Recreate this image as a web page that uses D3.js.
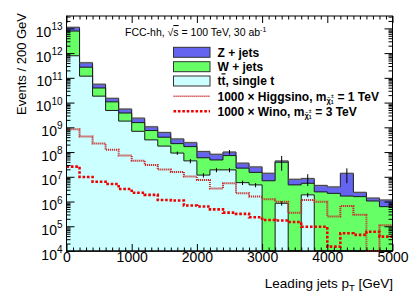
<!DOCTYPE html>
<html><head><meta charset="utf-8">
<script src="https://cdn.jsdelivr.net/npm/d3@7"></script>
<style>
body{margin:0;background:#fff}
svg{display:block}
text{font-family:"Liberation Sans",Arial,Helvetica,sans-serif}
</style>
</head><body>
<svg id="c" width="415" height="300"></svg>
<script>
// ---- data (GeV bins of 200) ----
const binLow = [0,200,400,600,800,1000,1200,1400,1600,1800,2000,2200,2400,2600,2800,3000,3200,3400,3600,3800,4000,4200,4400,4600,4800];
const binWidth = 200;
const ttbar = [7.8e11,1.17e11,1.82e10,4.8e9,1.78e9,6.9e8,3.1e8,1.74e8,9.1e7,4.4e7,1.17e7,1.9e7,1.9e7,5.8e6,4.7e6,0,8.5e5,0,1.86e6,0,0,0,0,0,0];
const wjets = [7.0e12,1.52e11,2.07e10,5.9e9,2.0e9,8.6e8,4.3e8,2.24e8,1.28e8,1.22e8,4.7e7,2.9e7,5.3e7,1.66e7,1.04e7,6.9e6,3.8e7,4.7e6,3.6e6,2.45e6,2.14e6,1.66e6,1.58e6,1.05e6,6.2e5];
const zjets = [3.2e12,1.38e11,1.61e10,4.1e9,1.7e9,7.9e8,3.1e8,2.19e8,1.2e8,7.4e7,4.6e7,3.3e7,2.8e7,1.31e7,1.0e7,6.9e6,4.7e6,3.2e6,3.0e6,2.0e6,1.76e6,1.21e7,7.6e5,3.3e5,5.3e5];
const higgsino = [8.3e8,4.3e8,2.2e8,1.23e8,7.3e7,4.5e7,3.0e7,1.95e7,1.58e7,1.03e7,7.4e6,3.4e6,5.5e6,2.15e6,1.58e6,1.23e6,9.8e5,3.5e5,1.15e6,9.8e5,2.5e5,6.6e5,2.9e5,0,1.1e5];
const wino = [2.57e7,9.8e6,6.3e6,5.1e6,3.2e6,2.25e6,1.86e6,1.15e6,1.1e6,6.9e5,6.3e5,4.8e5,3.55e5,3.16e5,2.3e5,1.78e5,1.7e5,1.48e5,9.5e4,9.5e4,1.5e4,5.2e4,4.5e4,6.0e4,3.8e4];
const totalRelErr = [0.02,0.03,0.03,0.03,0.03,0.03,0.03,0.04,0.05,0.08,0.06,0.08,0.2,0.08,0.08,0.1,0.6,0.1,0.5,0.1,0.1,0.6,0.1,0.1,0.1];
const bandRelErr = [0.1,0.1,0.1,0.1,0.1,0.1,0.1,0.1,0.1,0.1,0.1,0.1,0.1,0.1,0.1,0.1,0.1,0.1,0.1,0.1,0.1,0.1,0.1,0.1,0.1];
const ttRelErr = [0,0,0,0,0,0,0,0,0.15,0.2,0.2,0.2,0.2,0.2,0.2,0,0.2,0,0.2,0,0,0,0,0,0];
const xTickMajor = [0,1000,2000,3000,4000,5000];
const yTickExp = [4,5,6,7,8,9,10,11,12,13];
const legendLabels = ["Z + jets","W + jets","tt̄, single t"];

// ---- layout ----
const L = 66.5, R = 392.5, T = 16, B = 251;
const svg = d3.select("#c");
const x = d3.scaleLinear().domain([0,5000]).range([L,R]);
const y = d3.scaleLog().domain([1e4, Math.pow(10,13.5)]).range([B,T]).clamp(true);
const yv = v => v > 1e4 ? y(v) : B;

const cumTT = ttbar.slice();
const cumW = ttbar.map((v,i)=>v+wjets[i]);
const cumZ = cumW.map((v,i)=>v+zjets[i]);

function stepFill(vals){
  let p = `M${x(binLow[0])},${B}`;
  vals.forEach((v,i)=>{ p += `V${yv(v)}H${x(binLow[i]+binWidth)}`; });
  p += `V${B}Z`;
  return p;
}
function stepLine(vals){
  let p = `M${x(binLow[0])},${yv(vals[0])}`;
  vals.forEach((v,i)=>{ if(i>0) p += `V${yv(v)}`; p += `H${x(binLow[i]+binWidth)}`; });
  return p;
}

const colZ = "#6464f0", colW = "#66ff66", colT = "#ccffff";
const plot = svg.append("g");
plot.append("path").attr("d",stepFill(cumZ)).attr("fill",colZ).attr("stroke","#1a1a1a").attr("stroke-width",1);
plot.append("path").attr("d",stepFill(cumW)).attr("fill",colW).attr("stroke","#1a1a1a").attr("stroke-width",1);
plot.append("path").attr("d",stepFill(cumTT)).attr("fill",colT).attr("stroke","#1a1a1a").attr("stroke-width",1);

// uncertainty band
plot.selectAll("rect.band").data(cumZ).join("rect").attr("class","band")
  .attr("x",(d,i)=>x(binLow[i])).attr("width",(d,i)=>x(binLow[i]+binWidth)-x(binLow[i]))
  .attr("y",(d,i)=>yv(d*(1+bandRelErr[i])))
  .attr("height",(d,i)=>yv(d*(1-bandRelErr[i]))-yv(d*(1+bandRelErr[i])))
  .attr("fill","#808080").attr("opacity",0.45);

// error bars on total
cumZ.forEach((d,i)=>{
  const y1 = yv(d*(1+totalRelErr[i])), y2 = yv(d*(1-totalRelErr[i]));
  if (y2-y1 > 3) plot.append("line").attr("x1",x(binLow[i]+binWidth/2)).attr("x2",x(binLow[i]+binWidth/2))
     .attr("y1",y1).attr("y2",y2).attr("stroke","#000").attr("stroke-width",1);
});
// error ticks on ttbar component
ttbar.forEach((d,i)=>{
  if (!ttRelErr[i] || d<=1e4) return;
  plot.append("line").attr("x1",x(binLow[i]+binWidth/2)).attr("x2",x(binLow[i]+binWidth/2))
     .attr("y1",yv(d*(1+ttRelErr[i]))).attr("y2",yv(d*(1-ttRelErr[i]))).attr("stroke","#000").attr("stroke-width",1);
});

// signals
const higgsStyle = {stroke:"#c83030", w:2, dash:"1.2,0.8"};
const winoStyle = {stroke:"#f00000", w:2.6, dash:"2.6,1.8"};
plot.append("path").attr("d",stepLine(higgsino)).attr("fill","none").attr("stroke",higgsStyle.stroke)
  .attr("stroke-width",higgsStyle.w).attr("stroke-dasharray",higgsStyle.dash);
plot.append("path").attr("d",stepLine(wino)).attr("fill","none").attr("stroke",winoStyle.stroke)
  .attr("stroke-width",winoStyle.w).attr("stroke-dasharray",winoStyle.dash);

// ---- axes ----
const xMinor = d3.range(0,5001,100).filter(v=>v%1000!==0);
const yMinor = [];
yTickExp.forEach(e=>{ for(let m=2;m<=9;m++){ const v=m*Math.pow(10,e); if(v<=Math.pow(10,13.5)) yMinor.push(v);} });
const yMajor = yTickExp.map(e=>Math.pow(10,e));

function styleAxis(g){ g.select(".domain").remove(); g.selectAll("line").attr("stroke","#000"); }
svg.append("g").attr("transform",`translate(0,${B})`).call(d3.axisBottom(x).tickValues(xMinor).tickSize(-3.5).tickFormat("")).call(styleAxis);
svg.append("g").attr("transform",`translate(0,${B})`).call(d3.axisBottom(x).tickValues(xTickMajor).tickSize(-7).tickPadding(1.5).tickFormat(d3.format("d")))
  .call(styleAxis).call(g=>g.selectAll("text").attr("font-size",14).attr("fill","#000").attr("font-family","Liberation Sans, Arial, sans-serif"));
svg.append("g").attr("transform",`translate(0,${T})`).call(d3.axisTop(x).tickValues(xMinor).tickSize(-3.5).tickFormat("")).call(styleAxis);
svg.append("g").attr("transform",`translate(0,${T})`).call(d3.axisTop(x).tickValues(xTickMajor).tickSize(-7).tickFormat("")).call(styleAxis);

svg.append("g").attr("transform",`translate(${L},0)`).call(d3.axisLeft(y).tickValues(yMinor).tickSize(-4).tickFormat("")).call(styleAxis);
svg.append("g").attr("transform",`translate(${L},0)`).call(d3.axisLeft(y).tickValues(yMajor).tickSize(-8).tickFormat("")).call(styleAxis);
svg.append("g").attr("transform",`translate(${R},0)`).call(d3.axisRight(y).tickValues(yMinor).tickSize(-4).tickFormat("")).call(styleAxis);
svg.append("g").attr("transform",`translate(${R},0)`).call(d3.axisRight(y).tickValues(yMajor).tickSize(-8).tickFormat("")).call(styleAxis);

// y tick labels 10^n
const yl = svg.append("g");
yTickExp.forEach(e=>{
  const t = yl.append("text").attr("x",62.5).attr("y",y(Math.pow(10,e))+8.5).attr("text-anchor","end").attr("font-size",14).attr("fill","#000");
  t.append("tspan").text("10");
  t.append("tspan").attr("font-size",10).attr("dy",-6.5).text(String(e));
});

// frame
svg.append("rect").attr("x",L).attr("y",T).attr("width",R-L).attr("height",B-T).attr("fill","none").attr("stroke","#000").attr("stroke-width",1);

// axis titles
svg.append("text").attr("transform","translate(25.5,13) rotate(-90)").attr("text-anchor","end")
  .attr("font-size",13).attr("fill","#000").text("Events / 200 GeV");
const xt = svg.append("text").attr("x",393).attr("y",287.5).attr("text-anchor","end").attr("font-size",13.5).attr("fill","#000");
xt.append("tspan").text("Leading jets p");
xt.append("tspan").attr("font-size",9.5).attr("dy",3).text("T");
xt.append("tspan").attr("dy",-3).text(" [GeV]");

// title
const tt = svg.append("text").attr("x",125).attr("y",36).attr("font-size",10.5).attr("fill","#000");
tt.append("tspan").text("FCC-hh, √");
tt.append("tspan").attr("text-decoration","overline").text("s");
tt.append("tspan").text(" = 100 TeV, 30 ab");
tt.append("tspan").attr("font-size",7).attr("dy",-4).text("-1");

// legend
const lg = svg.append("g");
const rowY = [52.3,66.7,81,96.3,111.3];
[colZ,colW,colT].forEach((c,i)=>{
  lg.append("rect").attr("x",173.5).attr("y",rowY[i]-5).attr("width",36.5).attr("height",10)
    .attr("fill",c).attr("stroke","#333").attr("stroke-width",1);
});
legendLabels.forEach((s,i)=>{
  const t = lg.append("text").attr("x",217.5).attr("y",rowY[i]+4.3).attr("font-size",12).attr("font-weight","bold").attr("fill","#000");
  if (i===2){ t.append("tspan").text("t"); t.append("tspan").attr("text-decoration","overline").text("t"); t.append("tspan").text(", single t"); }
  else t.text(s);
});
lg.append("line").attr("x1",173.5).attr("x2",210).attr("y1",rowY[3]).attr("y2",rowY[3])
  .attr("stroke",higgsStyle.stroke).attr("stroke-width",1.6).attr("stroke-dasharray",higgsStyle.dash);
lg.append("line").attr("x1",173.5).attr("x2",210).attr("y1",rowY[4]).attr("y2",rowY[4])
  .attr("stroke",winoStyle.stroke).attr("stroke-width",winoStyle.w).attr("stroke-dasharray",winoStyle.dash);
[["Higgsino","1 TeV"],["Wino","3 TeV"]].forEach((p,k)=>{
  const t = lg.append("text").attr("x",217.5).attr("y",rowY[3+k]+4.3).attr("font-size",12).attr("font-weight","bold").attr("fill","#000");
  t.append("tspan").text("1000 × "+p[0]+", m");
  t.append("tspan").attr("font-size",7.5).attr("dy",2).text("χ̃");
  t.append("tspan").attr("font-size",5).attr("dy",-5).text("±");
  t.append("tspan").attr("font-size",5).attr("dy",6.5).attr("dx",-2.8).text("1");
  t.append("tspan").attr("dy",-3.5).attr("dx",0.5).text(" = "+p[1]);
});
</script>
</body></html>
